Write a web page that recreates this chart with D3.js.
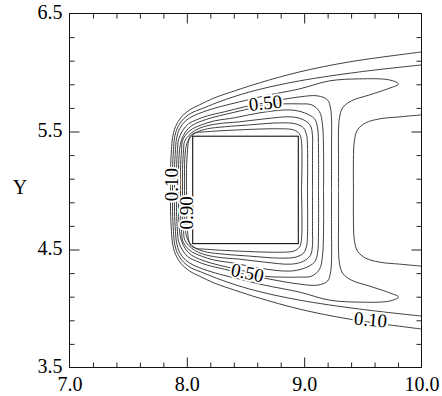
<!DOCTYPE html>
<html><head><meta charset="utf-8">
<script src="https://cdn.jsdelivr.net/npm/d3@7"></script>
<style>
body{margin:0;background:#fff}
text{font-family:"Liberation Serif","Times New Roman",serif}
</style>
</head><body>
<svg id="chart" width="442" height="396"></svg>
<script>
// ---------- data ----------
const xDomain = [7, 10];
const yDomain = [3.5, 6.5];
const xLabelTicks = [7, 8, 9, 10];
const yLabelTicks = [3.5, 4.5, 5.5, 6.5];
const xMajorTicks = [8, 9];
const yMajorTicks = [4.5, 5.5];
const xMinorTicks = [7.2, 7.4, 7.6, 7.8, 8.2, 8.4, 8.6, 8.8, 9.2, 9.4, 9.6, 9.8];
const yMinorTicks = [3.7, 3.9, 4.1, 4.3, 4.7, 4.9, 5.1, 5.3, 5.7, 5.9, 6.1, 6.3];
const yAxisTitle = "Y";

const obstacleX = [8.05, 8.95];
const obstacleY = [4.55, 5.46];

// contour level 0.1 (open, right edge -> front -> right edge)
const c010 = [[10.0,6.174],[9.386,6.090],[8.960,6.005],[8.619,5.912],[8.406,5.844],[8.236,5.785],[8.108,5.726],[8.023,5.683],[7.955,5.624],[7.903,5.540],[7.878,5.446],[7.869,5.345],[7.861,5.176],[7.861,5.0],
  [7.861,4.824],[7.869,4.655],[7.878,4.554],[7.903,4.460],[7.955,4.376],[8.023,4.317],[8.108,4.274],[8.236,4.215],[8.406,4.156],[8.619,4.088],[8.960,3.995],[9.386,3.910],[10.0,3.826]];
// contour level 0.2 (outer branch)
const c020a = [[10.0,6.064],[9.472,6.005],[8.960,5.929],[8.636,5.861],[8.423,5.802],[8.253,5.743],[8.125,5.692],[8.040,5.658],[7.972,5.607],[7.920,5.531],[7.895,5.446],[7.886,5.345],[7.878,5.176],[7.878,5.0],
  [7.878,4.824],[7.886,4.655],[7.895,4.554],[7.920,4.469],[7.972,4.393],[8.040,4.342],[8.125,4.308],[8.253,4.257],[8.423,4.198],[8.636,4.139],[8.960,4.071],[9.472,3.995],[10.0,3.936]];
// contour level 0.2 (wake branch)
const c020b = [[10.0,5.641],[9.813,5.624],[9.642,5.607],[9.523,5.573],[9.455,5.514],[9.429,5.430],[9.420,5.261],[9.420,5.0],
  [9.420,4.739],[9.429,4.570],[9.455,4.486],[9.523,4.427],[9.642,4.393],[9.813,4.376],[10.0,4.359]];
// contour level 0.3 (closed)
const c030 = [[9.293,5.0],[9.293,5.261],[9.293,5.514],[9.301,5.616],[9.327,5.700],[9.403,5.760],[9.557,5.810],[9.710,5.861],[9.804,5.903],[9.727,5.937],[9.472,5.946],[9.216,5.929],[8.960,5.861],[8.662,5.802],[8.449,5.751],[8.278,5.709],[8.142,5.667],[8.057,5.633],[7.989,5.590],[7.938,5.523],[7.912,5.438],[7.903,5.345],[7.895,5.176],[7.895,5.0],
  [7.895,4.824],[7.903,4.655],[7.912,4.562],[7.938,4.477],[7.989,4.410],[8.057,4.367],[8.142,4.333],[8.278,4.291],[8.449,4.249],[8.662,4.198],[8.960,4.139],[9.216,4.071],[9.472,4.054],[9.727,4.063],[9.804,4.097],[9.710,4.139],[9.557,4.190],[9.403,4.240],[9.327,4.300],[9.301,4.384],[9.293,4.486],[9.293,4.739],[9.293,5.0]];
// contour level 0.4
const c040 = [[9.233,5.0],[9.233,5.345],[9.233,5.599],[9.224,5.700],[9.199,5.768],[9.114,5.802],[8.960,5.793],[8.705,5.751],[8.492,5.709],[8.321,5.667],[8.176,5.633],[8.082,5.599],[8.014,5.565],[7.963,5.506],[7.929,5.430],[7.920,5.345],[7.912,5.176],[7.912,5.0],
  [7.912,4.824],[7.920,4.655],[7.929,4.570],[7.963,4.494],[8.014,4.435],[8.082,4.401],[8.176,4.367],[8.321,4.333],[8.492,4.291],[8.705,4.249],[8.960,4.207],[9.114,4.198],[9.199,4.232],[9.224,4.300],[9.233,4.401],[9.233,4.655],[9.233,5.0]];
// contour level 0.5
const c050 = [[9.165,5.0],[9.165,5.345],[9.156,5.556],[9.131,5.667],[9.063,5.726],[8.960,5.734],[8.815,5.734],[8.662,5.726],[8.492,5.683],[8.347,5.650],[8.210,5.616],[8.108,5.582],[8.040,5.548],[7.989,5.497],[7.955,5.430],[7.938,5.345],[7.929,5.176],[7.929,5.0],
  [7.929,4.824],[7.938,4.655],[7.955,4.570],[7.989,4.503],[8.040,4.452],[8.108,4.418],[8.210,4.384],[8.347,4.350],[8.492,4.317],[8.662,4.274],[8.815,4.266],[8.960,4.266],[9.063,4.274],[9.131,4.333],[9.156,4.444],[9.165,4.655],[9.165,5.0]];
// contour level 0.6
const c060 = [[9.122,5.0],[9.122,5.345],[9.114,5.531],[9.088,5.607],[9.003,5.658],[8.875,5.683],[8.619,5.658],[8.406,5.616],[8.236,5.590],[8.125,5.556],[8.048,5.523],[7.997,5.480],[7.963,5.421],[7.955,5.345],[7.946,5.176],[7.946,5.0],
  [7.946,4.824],[7.955,4.655],[7.963,4.579],[7.997,4.520],[8.048,4.477],[8.125,4.444],[8.236,4.410],[8.406,4.384],[8.619,4.342],[8.875,4.317],[9.003,4.342],[9.088,4.393],[9.114,4.469],[9.122,4.655],[9.122,5.0]];
// contour level 0.7
const c070 = [[9.071,5.0],[9.071,5.345],[9.071,5.463],[9.054,5.548],[8.994,5.599],[8.892,5.624],[8.662,5.607],[8.449,5.582],[8.261,5.565],[8.142,5.540],[8.065,5.506],[8.014,5.463],[7.980,5.413],[7.972,5.345],[7.963,5.176],[7.963,5.0],
  [7.963,4.824],[7.972,4.655],[7.980,4.587],[8.014,4.537],[8.065,4.494],[8.142,4.460],[8.261,4.435],[8.449,4.418],[8.662,4.393],[8.892,4.376],[8.994,4.401],[9.054,4.452],[9.071,4.537],[9.071,4.655],[9.071,5.0]];
// contour level 0.8
const c080 = [[9.028,5.0],[9.028,5.387],[9.020,5.472],[8.994,5.531],[8.926,5.565],[8.790,5.573],[8.534,5.556],[8.321,5.540],[8.176,5.523],[8.091,5.497],[8.040,5.463],[8.006,5.413],[7.989,5.345],[7.980,5.176],[7.980,5.0],
  [7.980,4.824],[7.989,4.655],[8.006,4.587],[8.040,4.537],[8.091,4.503],[8.176,4.477],[8.321,4.460],[8.534,4.444],[8.790,4.427],[8.926,4.435],[8.994,4.469],[9.020,4.528],[9.028,4.613],[9.028,5.0]];
// contour level 0.9
const c090 = [[8.977,5.0],[8.977,5.413],[8.960,5.480],[8.909,5.514],[8.790,5.523],[8.449,5.514],[8.151,5.497],[8.074,5.489],[8.031,5.463],[8.014,5.413],[8.006,5.345],[7.997,5.176],[7.997,5.0],
  [7.997,4.824],[8.006,4.655],[8.014,4.587],[8.031,4.537],[8.074,4.511],[8.151,4.503],[8.449,4.486],[8.790,4.477],[8.909,4.486],[8.960,4.520],[8.977,4.587],[8.977,5.0]];

const contourLines = [c010, c020a, c020b, c030, c040, c050, c060, c070, c080, c090];

const labelText = ["0.10", "0.90", "0.50", "0.50", "0.10"];
const labelX = [7.866, 7.995, 8.670, 8.517, 9.566];
const labelY = [5.05, 4.81, 5.743, 4.304, 3.906];

// ---------- drawing ----------
const svg = d3.select("#chart");
const L = 69.5, R = 421.5, T = 13.5, B = 367.5;
const x = d3.scaleLinear().domain(xDomain).range([L, R]);
const y = d3.scaleLinear().domain(yDomain).range([B, T]);
const labelAngle = [-90, -90, -6, 12, 5];
const serif = "'Liberation Serif','Times New Roman',serif";

const line = d3.line().x(d => x(d[0])).y(d => y(d[1])).curve(d3.curveCatmullRom.alpha(0.5));

const g = svg.append("g");
g.selectAll("path.contour").data(contourLines).join("path")
  .attr("class", "contour")
  .attr("d", line)
  .attr("fill", "none")
  .attr("stroke", "#2a2a2a")
  .attr("stroke-width", 0.9);

// obstacle
g.append("rect")
  .attr("x", x(obstacleX[0])).attr("y", y(obstacleY[1]))
  .attr("width", x(obstacleX[1]) - x(obstacleX[0]))
  .attr("height", y(obstacleY[0]) - y(obstacleY[1]))
  .attr("fill", "#fff").attr("stroke", "#111").attr("stroke-width", 1.1);

// contour labels
g.selectAll("text.clab").data(labelText).join("text")
  .attr("class", "clab")
  .attr("transform", (d, i) => `translate(${x(labelX[i])},${y(labelY[i])}) rotate(${labelAngle[i]})`)
  .attr("text-anchor", "middle")
  .attr("dominant-baseline", "central")
  .attr("font-family", serif)
  .attr("font-size", 19)
  .attr("fill", "#000")
  .attr("stroke", "#fff").attr("stroke-width", 4)
  .attr("paint-order", "stroke")
  .text(d => d);

// ticks (inward) on all four sides
function tickAxis(axisGen, transform) {
  const a = svg.append("g").attr("transform", transform).call(axisGen);
  a.select(".domain").remove();
  a.selectAll("line").attr("stroke", "#222").attr("stroke-width", 1);
  a.selectAll("text").remove();
}
tickAxis(d3.axisBottom(x).tickValues(xMinorTicks).tickSize(-5), `translate(0,${B})`);
tickAxis(d3.axisBottom(x).tickValues(xMajorTicks).tickSize(-10), `translate(0,${B})`);
tickAxis(d3.axisTop(x).tickValues(xMinorTicks).tickSize(-5), `translate(0,${T})`);
tickAxis(d3.axisTop(x).tickValues(xMajorTicks).tickSize(-10), `translate(0,${T})`);
tickAxis(d3.axisLeft(y).tickValues(yMinorTicks).tickSize(-5), `translate(${L},0)`);
tickAxis(d3.axisLeft(y).tickValues(yMajorTicks).tickSize(-10), `translate(${L},0)`);
tickAxis(d3.axisRight(y).tickValues(yMinorTicks).tickSize(-5), `translate(${R},0)`);
tickAxis(d3.axisRight(y).tickValues(yMajorTicks).tickSize(-10), `translate(${R},0)`);

// frame
svg.append("rect").attr("x", L).attr("y", T).attr("width", R - L).attr("height", B - T)
  .attr("fill", "none").attr("stroke", "#111").attr("stroke-width", 1);

// tick labels
const xl = svg.append("g").attr("transform", `translate(0,${B})`)
  .call(d3.axisBottom(x).tickValues(xLabelTicks).tickSize(0).tickPadding(9).tickFormat(d3.format(".1f")));
xl.select(".domain").remove();
xl.selectAll("text").attr("font-size", 20).attr("fill", "#000").attr("font-family", serif);

const yl = svg.append("g").attr("transform", `translate(${L},0)`)
  .call(d3.axisLeft(y).tickValues(yLabelTicks).tickSize(0).tickPadding(7).tickFormat(d3.format(".1f")));
yl.select(".domain").remove();
yl.selectAll("text").attr("font-size", 20).attr("fill", "#000").attr("dy", "0.26em").attr("font-family", serif);

svg.append("text").attr("x", 20).attr("y", 194).attr("text-anchor", "middle")
  .attr("font-family", serif).attr("font-size", 20).attr("fill", "#000").text(yAxisTitle);
</script>
</body></html>
